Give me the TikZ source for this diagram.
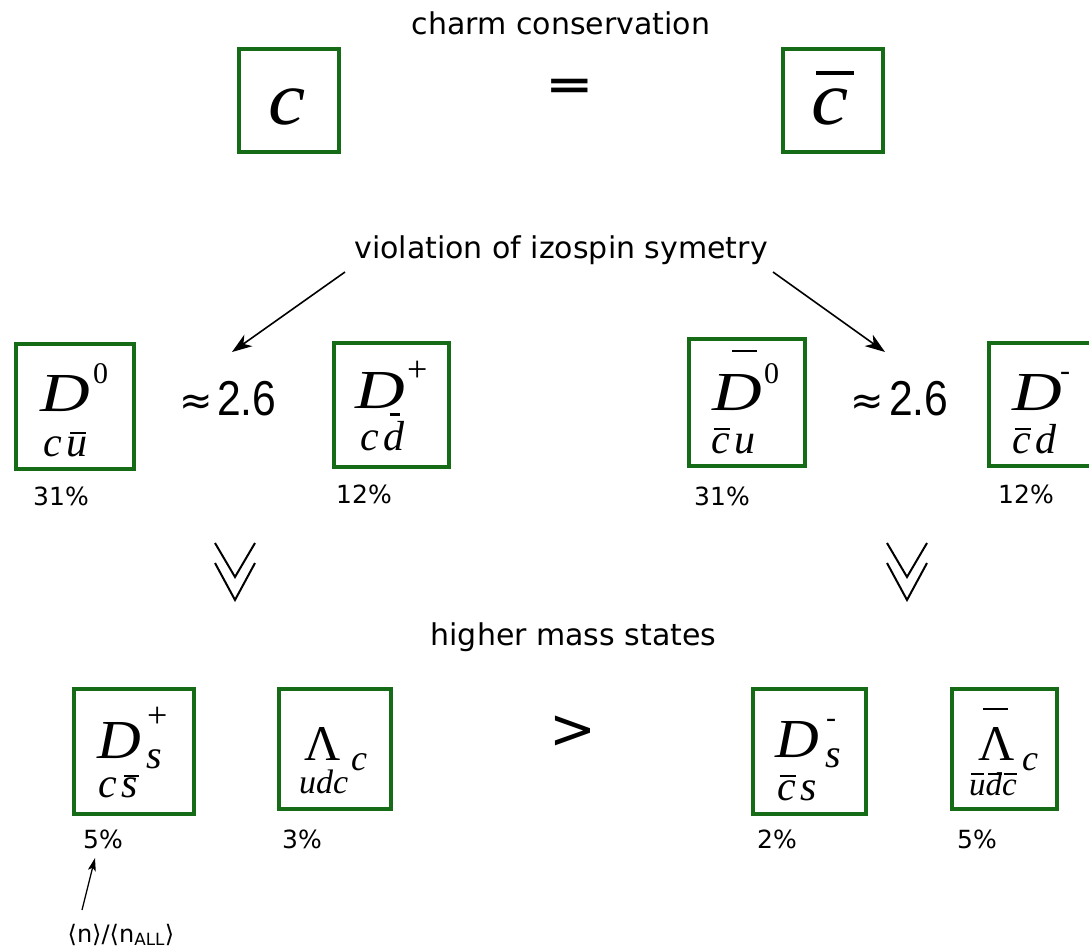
\documentclass[tikz,border=0pt]{standalone}
\usepackage{fontspec}
\setmainfont{Liberation Serif}
\setsansfont{DejaVu Sans}
\newfontfamily\numfont{Liberation Sans}
\usetikzlibrary{arrows.meta}
\definecolor{boxgreen}{RGB}{22,108,22}
\newcommand\fs[1]{\fontsize{#1}{#1}\selectfont}
% overbar: #1 raise, #2 shift, #3 width, #4 letter
\newcommand\ovr[4]{\rlap{\kern#2\raisebox{#1}{\rule{#3}{0.05em}}}#4}
\tikzset{
  pbox/.style={draw=boxgreen, line width=3.4pt, inner sep=0pt},
  title/.style={font=\sffamily\fs{30}, inner sep=0pt, anchor=base},
  pct/.style={font=\sffamily\fs{25}, inner sep=0pt, anchor=base west},
  big/.style={font=\itshape\fs{55}, inner sep=0pt, anchor=base west, xscale=1.25},
  bigl/.style={font=\itshape\fs{55}, inner sep=0pt, anchor=base west, xscale=1.1},
  sup/.style={font=\fs{30}, inner sep=0pt, anchor=base west},
  quark/.style={font=\itshape\fs{42}, inner sep=0pt, anchor=base west},
  ratio/.style={inner sep=0pt, anchor=base west},
  chev/.style={line width=2pt, line join=miter},
  pointer/.style={line width=1.6pt, -{Stealth[length=20pt,width=14pt,inset=6pt]}},
}
\begin{document}
\begin{tikzpicture}[x=1pt,y=-1pt]
\useasboundingbox[fill=white] (0,0) rectangle (1089,952);

% --- charm conservation ---
\node[title] (tcharm) at (561,35) {charm conservation};
\node[pbox, minimum width=100, minimum height=103] (bc) at (289,100.5) {};
\node[pbox, minimum width=100, minimum height=103] (bcb) at (833,100.5) {};
\node[font=\itshape\fs{76}, inner sep=0pt, anchor=base west, xscale=1.1] (c) at (268,125) {c};
\node[font=\itshape\fs{76}, inner sep=0pt, anchor=base west, xscale=1.1] (cb) at (811,125) {\ovr{0.66em}{0.06em}{0.45em}{c}};
\node[font=\sffamily\bfseries\fs{40}, inner sep=0pt, xscale=1.45] (eq) at (570,89) {=};

% --- isospin ---
\node[title] (tiso) at (561,258) {violation of izospin symetry};
\coordinate (al0) at (345,272);
\coordinate (al1) at (232,352);
\coordinate (ar0) at (773,272);
\coordinate (ar1) at (885,352);
\draw[pointer] (al0) -- (al1);
\draw[pointer] (ar0) -- (ar1);

% D0
\node[pbox, minimum width=118, minimum height=125] (bD0) at (75,406.5) {};
\node[big] (D0) at (40,411) {D};
\node[sup] (D0s) at (93,383) {0};
\node[quark] (D0q) at (43,456) {c\kern5pt\ovr{0.52em}{0.08em}{0.38em}{u}};
\node[pct] (pD0) at (33,505) {31\%};
% ratio left
\node[ratio, font=\sffamily\fs{40}] (apl) at (179,414) {≈};
\node[ratio, font=\numfont\fs{49}, xscale=0.87] (rl) at (217,415) {2.6};
% D+
\node[pbox, minimum width=115, minimum height=124] (bDp) at (391.5,405) {};
\node[big] (Dp) at (355,408) {D};
\node[sup, font=\fs{36}] (Dps) at (407,381) {+};
\node[quark] (Dpq) at (360,450) {c\kern5pt\ovr{0.82em}{0.14em}{0.24em}{d}};
\node[pct] (pDp) at (336,503) {12\%};

% D0 bar
\node[pbox, minimum width=116, minimum height=127] (bD0b) at (747,402.5) {};
\node[big] (D0b) at (712,410) {\ovr{1.05em}{0.29em}{0.36em}{D}};
\node[sup] (D0bs) at (764,383) {0};
\node[quark] (D0bq) at (711,453) {\ovr{0.55em}{0.06em}{0.38em}{c}\kern5pt u};
\node[pct] (pD0b) at (694,505) {31\%};
% ratio right
\node[ratio, font=\sffamily\fs{40}] (apr) at (850,414) {≈};
\node[ratio, font=\numfont\fs{49}, xscale=0.87] (rr) at (889,415) {2.6};
% D-
\node[pbox, minimum width=115, minimum height=123] (bDm) at (1046.5,404.5) {};
\node[big] (Dm) at (1012,410) {D};
\node[sup] (Dms) at (1060,380) {-};
\node[quark] (Dmq) at (1012,453) {\ovr{0.55em}{0.06em}{0.38em}{c}\kern5pt d};
\node[pct] (pDm) at (998,503) {12\%};

% chevrons
\draw[chev] (215,543) -- (235,577) -- (255,543);
\draw[chev] (215,563) -- (235,600) -- (255,563);
\draw[chev] (887,543) -- (907,577) -- (927,543);
\draw[chev] (887,563) -- (907,600) -- (927,563);

% --- higher mass states ---
\node[title] (thigh) at (573.5,645) {higher mass states};
\node[font=\sffamily\fs{56}, inner sep=0pt] (gt) at (573,732) {>};

% Ds+
\node[pbox, minimum width=120, minimum height=125] (bDsp) at (134,751.5) {};
\node[bigl] (Dsp) at (97,758) {D};
\node[sup, font=\fs{36}] (Dsps) at (147,727) {+};
\node[quark, font=\itshape\fs{40}] (Dspsub) at (146,768) {s};
\node[quark] (Dspq) at (98,797) {c\kern5pt\ovr{0.48em}{0.04em}{0.36em}{s}};
\node[pct] (pDsp) at (83,848) {5\%};

% Lambda_c
\node[pbox, minimum width=112, minimum height=120] (bL) at (335,749) {};
\node[ratio, font=\fs{50}] (L) at (304,760) {Λ};
\node[quark, font=\itshape\fs{36}] (Lc) at (351,770) {c};
\node[quark, font=\itshape\fs{34}] (Lq) at (299,793) {udc};
\node[pct] (pL) at (282,848) {3\%};

% Ds-
\node[pbox, minimum width=113, minimum height=125] (bDsm) at (809.5,751.5) {};
\node[bigl] (Dsm) at (775,757) {D};
\node[sup] (Dsms) at (826,727) {-};
\node[quark, font=\itshape\fs{40}] (Dsmsub) at (825,767) {s};
\node[quark] (Dsmq) at (777,800) {\ovr{0.55em}{0.06em}{0.38em}{c}\kern5pt s};
\node[pct] (pDsm) at (757,848) {2\%};

% anti Lambda_c
\node[pbox, minimum width=105, minimum height=120] (bLb) at (1004.5,749) {};
\node[ratio, font=\fs{50}] (Lb) at (978,760) {\ovr{1.0em}{0.1em}{0.5em}{Λ}};
\node[quark, font=\itshape\fs{36}] (Lbc) at (1022,770) {c};
\node[quark, font=\itshape\fs{33}] (Lbq) at (969,795) {\ovr{0.62em}{0.05em}{0.4em}{u}\ovr{0.62em}{0.08em}{0.4em}{d}\ovr{0.62em}{0.04em}{0.4em}{c}};
\node[pct] (pLb) at (957,848) {5\%};

% average multiplicity note
\node[font=\sffamily\fs{24}, inner sep=0pt] (note) at (121,935) {⟨n⟩/⟨n\textsubscript{ALL}⟩};
\coordinate (n0) at (82,910);
\coordinate (n1) at (95,858);
\draw[line width=1.3pt, -{Stealth[length=13pt,width=8pt,inset=3pt]}] (n0) -- (n1);
\end{tikzpicture}
\end{document}
